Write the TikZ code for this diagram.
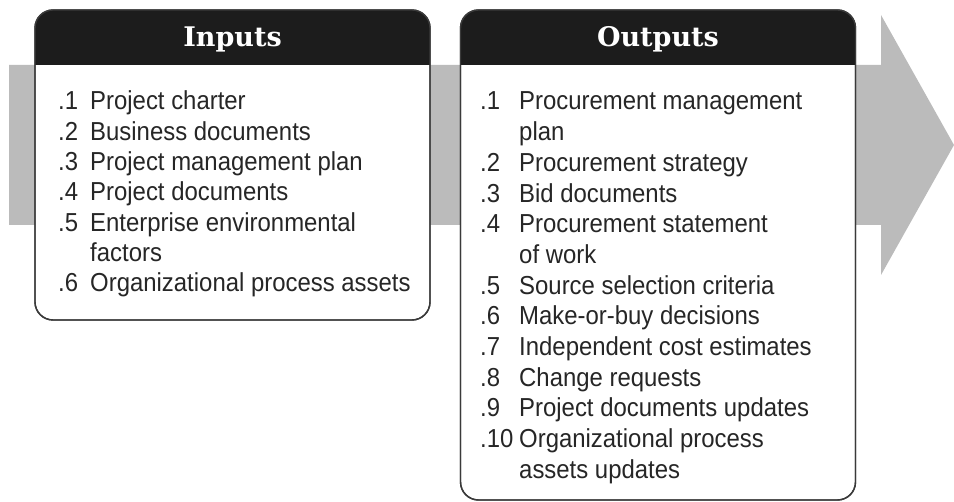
\documentclass[tikz,border=0pt]{standalone}
\usepackage{fontspec}
\newfontfamily\itemfont[FakeStretch=0.92]{Liberation Sans}
\newfontfamily\headfont{DejaVu Serif}
\usetikzlibrary{positioning}

\definecolor{bandgray}{HTML}{BBBBBB}
\definecolor{headblack}{HTML}{1C1C1C}
\definecolor{textgray}{HTML}{262626}
\definecolor{linegray}{HTML}{3A3A3A}

\begin{document}
\begin{tikzpicture}[x=1pt,y=-1pt,
	listbox/.style={draw=linegray, line width=1.4pt, fill=white, rounded corners=18pt, inner sep=0pt, outer sep=0pt},
	boxline/.style={draw=linegray, line width=1.4pt, rounded corners=18pt},
	titletext/.style={text=white, font=\headfont\bfseries\fontsize{27}{30}\selectfont},
	itemtext/.style={text=textgray, font=\itemfont\fontsize{26}{30}\selectfont, anchor=base west, inner sep=0pt}]
	\useasboundingbox (0,0) rectangle (954,502);
	% gray band with arrow head
	\fill[bandgray] (9,65) -- (881,65) -- (881,15) -- (954,145) -- (881,275) -- (881,225) -- (9,225) -- cycle;
	% the two boxes
	\node[listbox, minimum width=395pt, minimum height=310pt] (inbox) at (232.5,165) {};
	\node[listbox, minimum width=395pt, minimum height=490pt] (outbox) at (658,255) {};
	\foreach \b in {inbox,outbox} {
		\fill[headblack] ([yshift=-55pt]\b.north west) [rounded corners=18pt] -- (\b.north west) -- (\b.north east) [sharp corners] -- ([yshift=-55pt]\b.north east) -- cycle;
		\draw[boxline] (\b.north west) rectangle (\b.south east);
	}
	\node[titletext] (intitle) at ([yshift=-29pt]inbox.north) {Inputs};
	\node[titletext] (outtitle) at ([yshift=-29pt]outbox.north) {Outputs};
	% inputs
	\foreach \n/\t [count=\i] in {.1/Project charter, .2/Business documents, .3/Project management plan, .4/Project documents, .5/Enterprise environmental, /factors, .6/Organizational process assets} {
		\node[itemtext] (innum\i) at (58,{110+30.33*(\i-1)}) {\n};
		\node[itemtext] (intxt\i) at (90,{110+30.33*(\i-1)}) {\t};
	}
	% outputs
	\foreach \n/\t [count=\i] in {.1/Procurement management, /plan, .2/Procurement strategy, .3/Bid documents, .4/Procurement statement, /of work, .5/Source selection criteria, .6/Make-or-buy decisions, .7/Independent cost estimates, .8/Change requests, .9/Project documents updates, .10/Organizational process, /assets updates} {
		\node[itemtext] (outnum\i) at (480,{110+30.67*(\i-1)}) {\n};
		\node[itemtext] (outtxt\i) at (519,{110+30.67*(\i-1)}) {\t};
	}
\end{tikzpicture}
\end{document}
